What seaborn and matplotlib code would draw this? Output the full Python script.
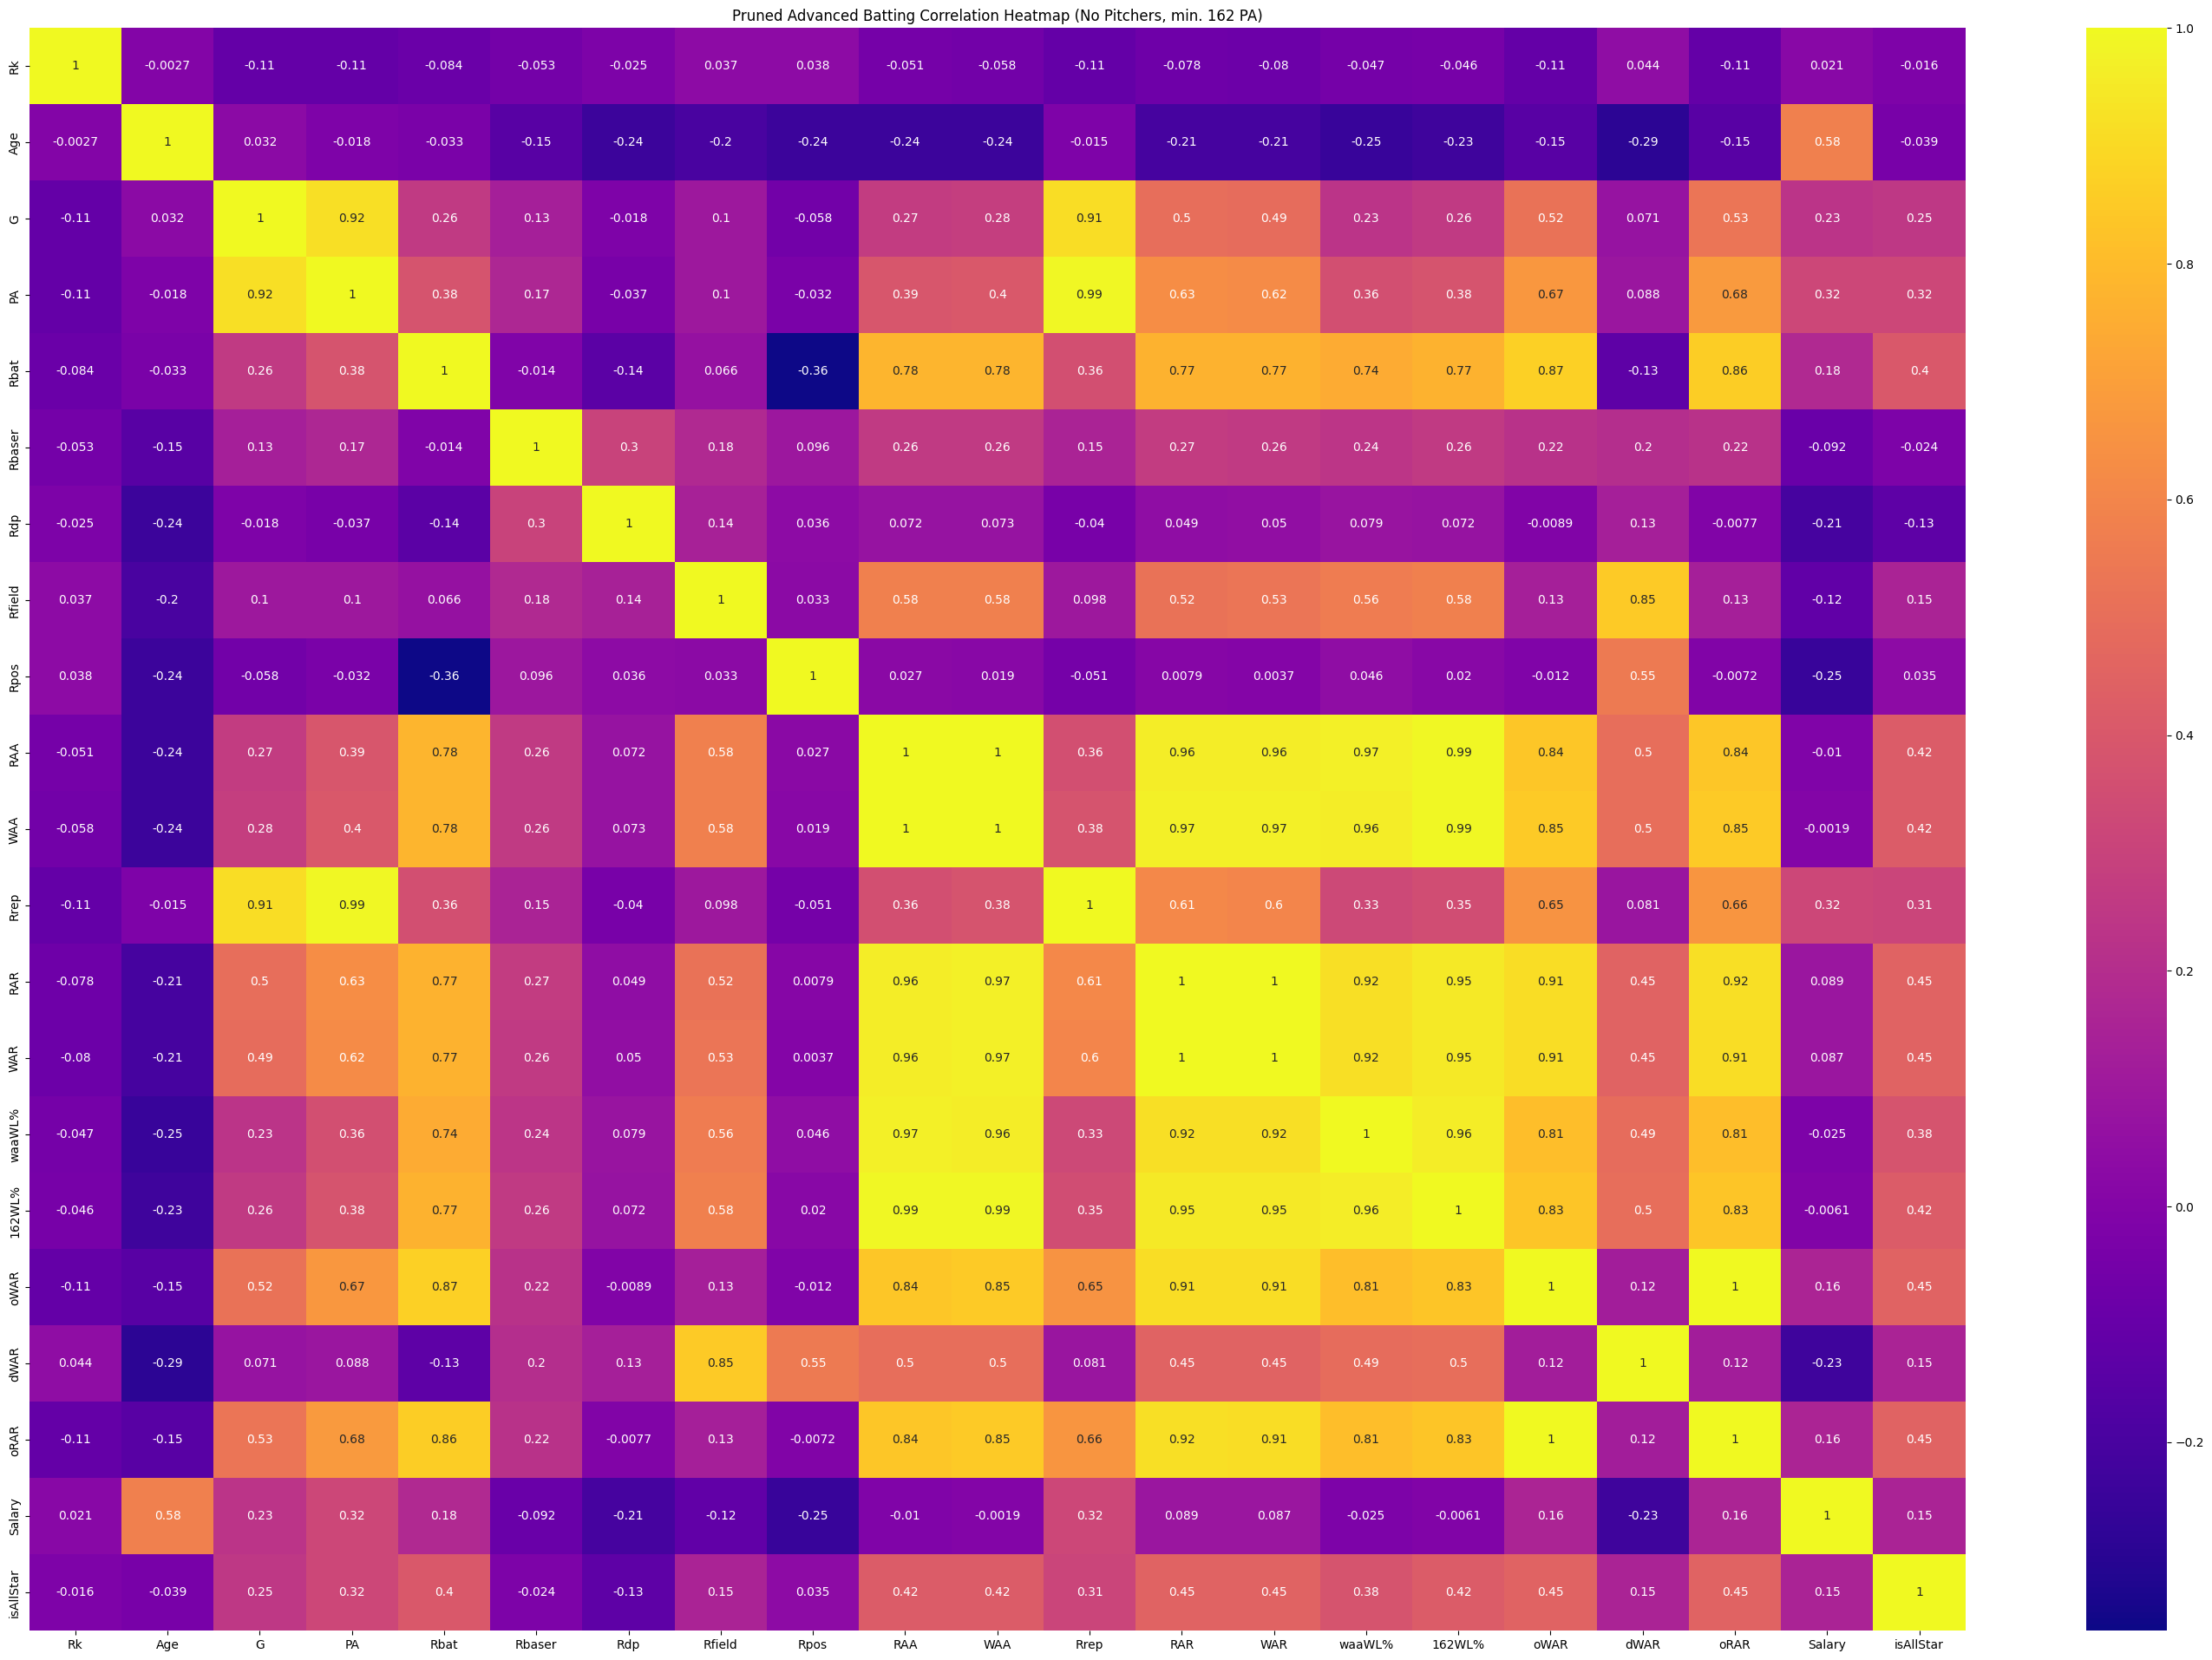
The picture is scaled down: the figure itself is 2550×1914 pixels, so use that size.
import numpy as np
import pandas as pd
import matplotlib
matplotlib.use('Agg')
import matplotlib.pyplot as plt
import seaborn as sns

cols = ['Rk', 'Age', 'G', 'PA', 'Rbat', 'Rbaser', 'Rdp', 'Rfield', 'Rpos', 'RAA', 'WAA',
        'Rrep', 'RAR', 'WAR', 'waaWL%', '162WL%', 'oWAR', 'dWAR', 'oRAR', 'Salary', 'isAllStar']

# correlation values, one row per variable
rk = [1, -0.0027, -0.11, -0.11, -0.084, -0.053, -0.025, 0.037, 0.038, -0.051, -0.058, -0.11, -0.078, -0.08, -0.047, -0.046, -0.11, 0.044, -0.11, 0.021, -0.016]
age = [-0.0027, 1, 0.032, -0.018, -0.033, -0.15, -0.24, -0.2, -0.24, -0.24, -0.24, -0.015, -0.21, -0.21, -0.25, -0.23, -0.15, -0.29, -0.15, 0.58, -0.039]
g = [-0.11, 0.032, 1, 0.92, 0.26, 0.13, -0.018, 0.1, -0.058, 0.27, 0.28, 0.91, 0.5, 0.49, 0.23, 0.26, 0.52, 0.071, 0.53, 0.23, 0.25]
pa = [-0.11, -0.018, 0.92, 1, 0.38, 0.17, -0.037, 0.1, -0.032, 0.39, 0.4, 0.99, 0.63, 0.62, 0.36, 0.38, 0.67, 0.088, 0.68, 0.32, 0.32]
rbat = [-0.084, -0.033, 0.26, 0.38, 1, -0.014, -0.14, 0.066, -0.36, 0.78, 0.78, 0.36, 0.77, 0.77, 0.74, 0.77, 0.87, -0.13, 0.86, 0.18, 0.4]
rbaser = [-0.053, -0.15, 0.13, 0.17, -0.014, 1, 0.3, 0.18, 0.096, 0.26, 0.26, 0.15, 0.27, 0.26, 0.24, 0.26, 0.22, 0.2, 0.22, -0.092, -0.024]
rdp = [-0.025, -0.24, -0.018, -0.037, -0.14, 0.3, 1, 0.14, 0.036, 0.072, 0.073, -0.04, 0.049, 0.05, 0.079, 0.072, -0.0089, 0.13, -0.0077, -0.21, -0.13]
rfield = [0.037, -0.2, 0.1, 0.1, 0.066, 0.18, 0.14, 1, 0.033, 0.58, 0.58, 0.098, 0.52, 0.53, 0.56, 0.58, 0.13, 0.85, 0.13, -0.12, 0.15]
rpos = [0.038, -0.24, -0.058, -0.032, -0.36, 0.096, 0.036, 0.033, 1, 0.027, 0.019, -0.051, 0.0079, 0.0037, 0.046, 0.02, -0.012, 0.55, -0.0072, -0.25, 0.035]
raa = [-0.051, -0.24, 0.27, 0.39, 0.78, 0.26, 0.072, 0.58, 0.027, 1, 1, 0.36, 0.96, 0.96, 0.97, 0.99, 0.84, 0.5, 0.84, -0.01, 0.42]
waa = [-0.058, -0.24, 0.28, 0.4, 0.78, 0.26, 0.073, 0.58, 0.019, 1, 1, 0.38, 0.97, 0.97, 0.96, 0.99, 0.85, 0.5, 0.85, -0.0019, 0.42]
rrep = [-0.11, -0.015, 0.91, 0.99, 0.36, 0.15, -0.04, 0.098, -0.051, 0.36, 0.38, 1, 0.61, 0.6, 0.33, 0.35, 0.65, 0.081, 0.66, 0.32, 0.31]
rar = [-0.078, -0.21, 0.5, 0.63, 0.77, 0.27, 0.049, 0.52, 0.0079, 0.96, 0.97, 0.61, 1, 1, 0.92, 0.95, 0.91, 0.45, 0.92, 0.089, 0.45]
war = [-0.08, -0.21, 0.49, 0.62, 0.77, 0.26, 0.05, 0.53, 0.0037, 0.96, 0.97, 0.6, 1, 1, 0.92, 0.95, 0.91, 0.45, 0.91, 0.087, 0.45]
waawl = [-0.047, -0.25, 0.23, 0.36, 0.74, 0.24, 0.079, 0.56, 0.046, 0.97, 0.96, 0.33, 0.92, 0.92, 1, 0.96, 0.81, 0.49, 0.81, -0.025, 0.38]
wl162 = [-0.046, -0.23, 0.26, 0.38, 0.77, 0.26, 0.072, 0.58, 0.02, 0.99, 0.99, 0.35, 0.95, 0.95, 0.96, 1, 0.83, 0.5, 0.83, -0.0061, 0.42]
owar = [-0.11, -0.15, 0.52, 0.67, 0.87, 0.22, -0.0089, 0.13, -0.012, 0.84, 0.85, 0.65, 0.91, 0.91, 0.81, 0.83, 1, 0.12, 1, 0.16, 0.45]
dwar = [0.044, -0.29, 0.071, 0.088, -0.13, 0.2, 0.13, 0.85, 0.55, 0.5, 0.5, 0.081, 0.45, 0.45, 0.49, 0.5, 0.12, 1, 0.12, -0.23, 0.15]
orar = [-0.11, -0.15, 0.53, 0.68, 0.86, 0.22, -0.0077, 0.13, -0.0072, 0.84, 0.85, 0.66, 0.92, 0.91, 0.81, 0.83, 1, 0.12, 1, 0.16, 0.45]
salary = [0.021, 0.58, 0.23, 0.32, 0.18, -0.092, -0.21, -0.12, -0.25, -0.01, -0.0019, 0.32, 0.089, 0.087, -0.025, -0.0061, 0.16, -0.23, 0.16, 1, 0.15]
allstar = [-0.016, -0.039, 0.25, 0.32, 0.4, -0.024, -0.13, 0.15, 0.035, 0.42, 0.42, 0.31, 0.45, 0.45, 0.38, 0.42, 0.45, 0.15, 0.45, 0.15, 1]

rows = [rk, age, g, pa, rbat, rbaser, rdp, rfield, rpos, raa, waa, rrep, rar, war,
        waawl, wl162, owar, dwar, orar, salary, allstar]
corr = pd.DataFrame(np.array(rows), index=cols, columns=cols)

fig, ax = plt.subplots(figsize=(36, 24))
sns.heatmap(corr, annot=True, cmap='plasma', ax=ax)
ax.set_title('Pruned Advanced Batting Correlation Heatmap (No Pitchers, min. 162 PA)')
fig.savefig('out.png', dpi=100, bbox_inches='tight')
